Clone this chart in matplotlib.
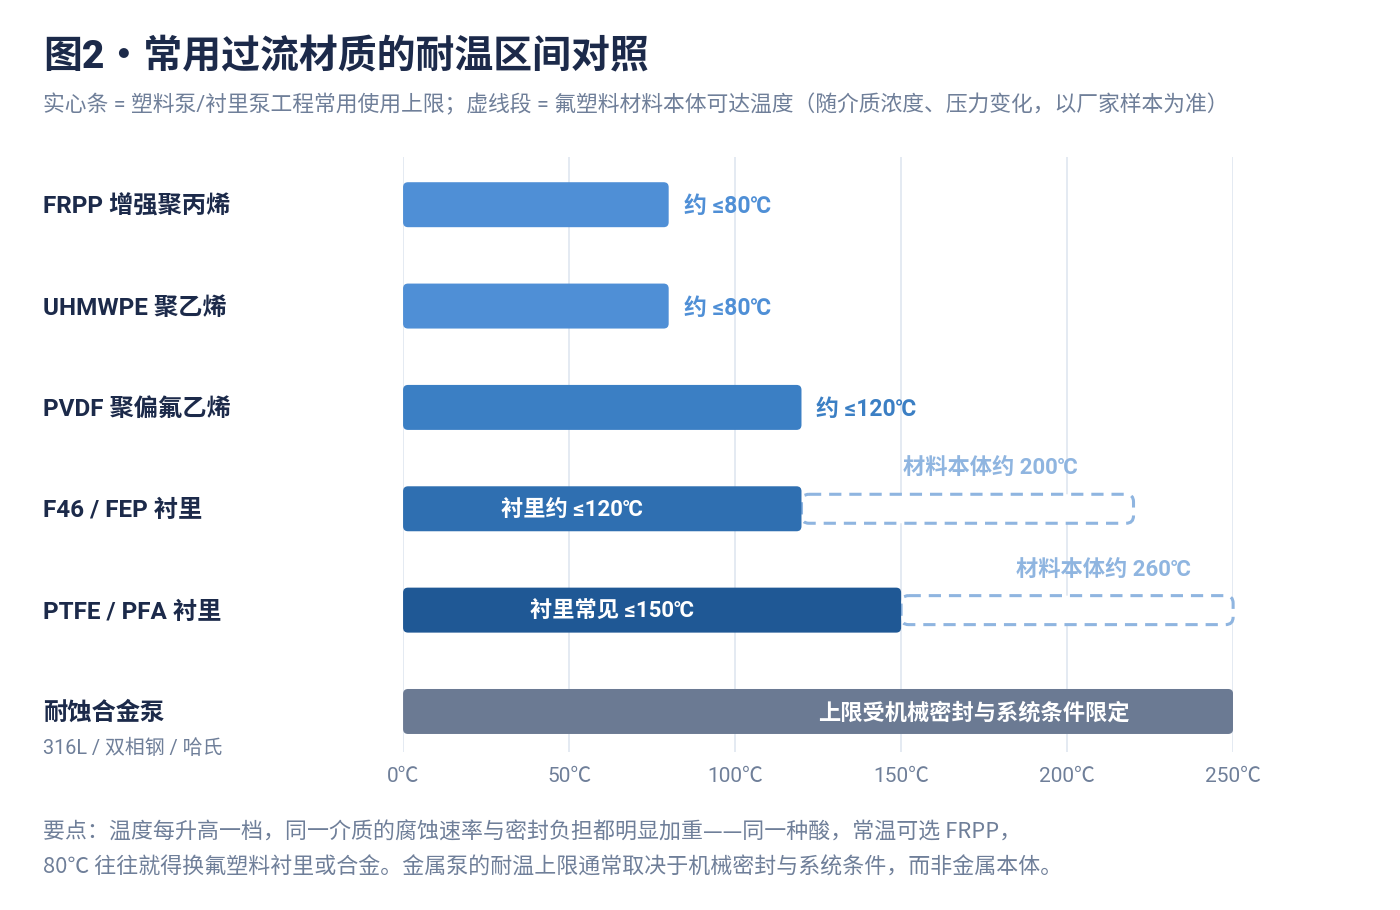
import matplotlib
matplotlib.use("Agg")
import matplotlib.pyplot as plt
from matplotlib.patches import FancyBboxPatch
from matplotlib.transforms import blended_transform_factory

plt.rcParams['font.family'] = ['Roboto', 'Noto Sans CJK SC', 'DejaVu Sans']
cjk = ['Noto Sans CJK SC', 'DejaVu Sans']

# data
categories = ['FRPP 增强聚丙烯', 'UHMWPE 聚乙烯', 'PVDF 聚偏氟乙烯',
              'F46 / FEP 衬里', 'PTFE / PFA 衬里', '耐蚀合金泵']
solid_limit = [80, 80, 120, 120, 150, 250]
solid_colors = ['#4f8fd6', '#4f8fd6', '#3b7fc4', '#2f6fb1', '#1f5895', '#6b7a93']
outside_labels = ['约 ≤80℃', '约 ≤80℃', '约 ≤120℃', None, None, None]
inside_labels = [None, None, None, '衬里约 ≤120℃', '衬里常见 ≤150℃', '上限受机械密封与系统条件限定']
inside_label_x = [None, None, None, 51, 63, 172]
dash_end = [None, None, None, 220, 260, None]
dash_labels = [None, None, None, '材料本体约 200℃', '材料本体约 260℃', None]
dash_label_x = [None, None, None, 177, 211, None]
xticks = [0, 50, 100, 150, 200, 250]
xmax = 250

navy = '#1c2a4a'
gray = '#6f7f99'
dash_color = '#8fb5e0'

fig = plt.figure(figsize=(14, 9.1), dpi=100)
ax = fig.add_axes([0.2879, 0.1736, 0.5929, 0.6538])
ax.set_xlim(0, xmax)
ax.set_ylim(len(categories) - 1 + 0.4, -0.47)

# rounding: ~5px radius; 3.32 px per degree, ~101 px per row
x_px = 830 / xmax
y_px = 101.4
r_x = 5 / x_px
aspect = (5 / y_px) / r_x

bar_h = 45 / y_px
dash_h = 29 / y_px
ty = 0.02  # small nudge so text sits visually centred on the bars

for i, cat in enumerate(categories):
    val = solid_limit[i]
    bar = FancyBboxPatch((0, i - bar_h / 2), val, bar_h,
                         boxstyle=f"round,pad=0,rounding_size={r_x}",
                         mutation_aspect=aspect, facecolor=solid_colors[i],
                         edgecolor='none', zorder=3)
    ax.add_patch(bar)

    if dash_end[i] is not None:
        end = min(dash_end[i], xmax)
        box = FancyBboxPatch((val, i - dash_h / 2), end - val, dash_h,
                             boxstyle=f"round,pad=0,rounding_size={r_x * 1.5}",
                             mutation_aspect=aspect, facecolor='white',
                             edgecolor=dash_color, linewidth=2.2,
                             linestyle=(0, (4, 2.6)), zorder=2, clip_on=False)
        ax.add_patch(box)
        ax.text(dash_label_x[i], i - 0.41 + ty, dash_labels[i], color=dash_color,
                fontsize=16, fontweight='bold', ha='center', va='center', zorder=4)

    if outside_labels[i] is not None:
        ax.text(val + 15 / x_px, i + ty, outside_labels[i], color=solid_colors[i],
                fontsize=16.5, fontweight='bold', ha='left', va='center', zorder=4)

    if inside_labels[i] is not None:
        ax.text(inside_label_x[i], i + ty, inside_labels[i], color='white',
                fontsize=16, fontweight='bold', ha='center', va='center', zorder=4)

# row labels on the left
lab_tr = blended_transform_factory(fig.transFigure, ax.transData)
for i, cat in enumerate(categories):
    ax.text(43 / 1400, i + ty, cat, transform=lab_tr, color=navy, fontsize=17.5,
            fontweight='bold', ha='left', va='center')
ax.text(43 / 1400, len(categories) - 1 + 0.36, '316L / 双相钢 / 哈氏', transform=lab_tr,
        color=gray, fontsize=14.3, ha='left', va='center')

# grid and axis
ax.set_xticks(xticks)
ax.set_xticklabels([f'{t}℃' for t in xticks], color=gray, fontsize=15)
ax.tick_params(axis='x', length=0, pad=11)
ax.set_yticks([])
ax.grid(axis='x', color='#dfe6f0', linewidth=1.2, zorder=0)
ax.set_axisbelow(True)
for s in ax.spines.values():
    s.set_visible(False)

# title, subtitle, notes
fig.text(43 / 1400, 1 - 58 / 910, '图2・常用过流材质的耐温区间对照', color=navy,
         fontsize=28, fontweight='heavy', ha='left', va='center')
fig.text(43 / 1400, 1 - 105 / 910,
         '实心条 = 塑料泵/衬里泵工程常用使用上限；虚线段 = 氟塑料材料本体可达温度（随介质浓度、压力变化，以厂家样本为准）',
         color=gray, fontsize=15.7, ha='left', va='center')
fig.text(43 / 1400, 1 - 833 / 910,
         '要点：温度每升高一档，同一介质的腐蚀速率与密封负担都明显加重——同一种酸，常温可选 FRPP，',
         color=gray, fontsize=15.8, ha='left', va='center', family=cjk)
fig.text(43 / 1400, 1 - 868 / 910,
         '80℃ 往往就得换氟塑料衬里或合金。金属泵的耐温上限通常取决于机械密封与系统条件，而非金属本体。',
         color=gray, fontsize=15.8, ha='left', va='center', family=cjk)

fig.savefig('out.png', dpi=100, facecolor='white')
